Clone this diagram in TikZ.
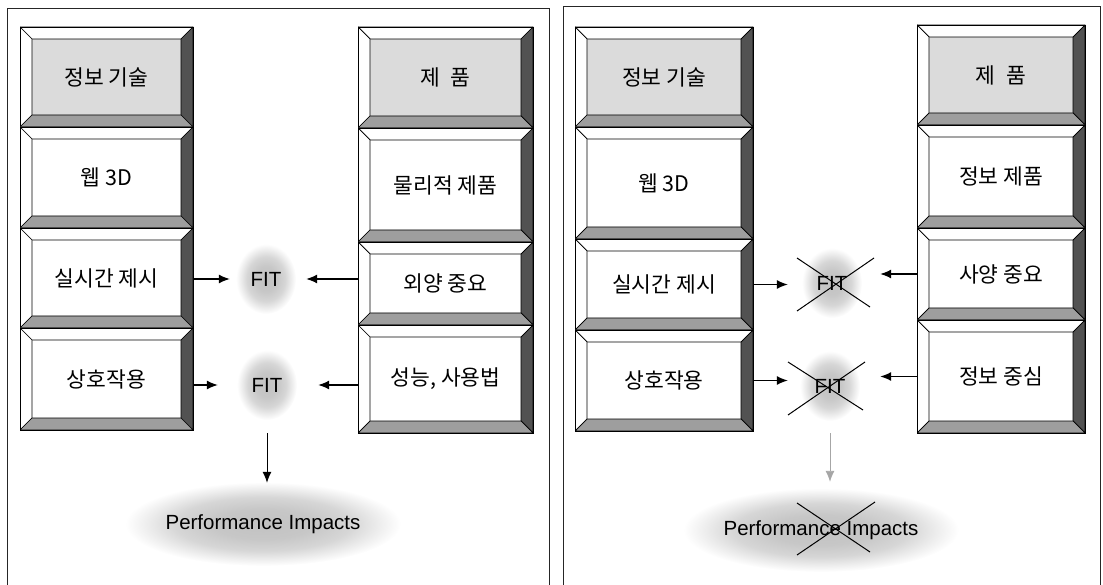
\documentclass[tikz,border=0pt]{standalone}
\usepackage{fontspec}
\setmainfont{Liberation Sans}
\newfontfamily\kr{Noto Sans CJK KR}
\usetikzlibrary{positioning,arrows.meta,shapes.geometric}
\definecolor{face}{gray}{0.86}
\definecolor{shadow}{gray}{0.32}
\definecolor{ledge}{gray}{0.62}
\pgfdeclareradialshading{haze}{\pgfpoint{0bp}{0bp}}{color(0bp)=(gray!48); color(9bp)=(gray!44); color(16bp)=(gray!32); color(21bp)=(gray!14); color(25bp)=(white); color(50bp)=(white)}

\begin{document}
\begin{tikzpicture}[x=1pt,y=-1pt,
  bevel/.style={rectangle,draw,line width=0.8pt,outer sep=0pt,inner sep=0pt,fill=white,
    font=\kr\fontsize{21.5}{26}\selectfont,
    path picture={
      \coordinate (bnw) at (path picture bounding box.north west);
      \coordinate (bne) at (path picture bounding box.north east);
      \coordinate (bsw) at (path picture bounding box.south west);
      \coordinate (bse) at (path picture bounding box.south east);
      \coordinate (inw) at ([shift={(12pt,-12pt)}]bnw);
      \coordinate (ine) at ([shift={(-12pt,-12pt)}]bne);
      \coordinate (isw) at ([shift={(12pt,12pt)}]bsw);
      \coordinate (ise) at ([shift={(-12pt,12pt)}]bse);
      \filldraw[fill=white,line width=0.7pt] (bnw) -- (bne) -- (ine) -- (inw) -- cycle;
      \filldraw[fill=white,line width=0.7pt] (bnw) -- (inw) -- (isw) -- (bsw) -- cycle;
      \filldraw[fill=shadow,line width=0.7pt] (bne) -- (bse) -- (ise) -- (ine) -- cycle;
      \filldraw[fill=ledge,line width=0.7pt] (bsw) -- (isw) -- (ise) -- (bse) -- cycle;
    }},
  head/.style={bevel,fill=face},
  fitblob/.style={ellipse,shade,shading=haze,minimum width=60pt,minimum height=70pt,inner sep=0pt,
    font=\fontsize{20.5}{24}\selectfont},
  perf/.style={ellipse,shade,shading=haze,minimum height=84pt,inner sep=0pt,
    font=\fontsize{20.5}{24}\selectfont},
  arr/.style={-{Latex[length=11pt,width=9pt]},line width=1.2pt},
  strike/.style={line width=1pt},
  frame/.style={line width=1pt,black!85}]
  \useasboundingbox (0,0) rectangle (1103,585);
  \draw[frame] (7,592) -- (7,9) -- (549,9) -- (549,592);
  \draw[frame] (563,592) -- (563,7) -- (1100,7) -- (1100,592);

  % left panel, technology column
  \node[head,minimum width=173pt,minimum height=100pt] (a1) at (106.5,77) {정보 기술};
  \node[bevel,minimum width=173pt,minimum height=101pt,below=0pt of a1] (a2) {웹 3D};
  \node[bevel,minimum width=173pt,minimum height=100pt,below=0pt of a2] (a3) {실시간 제시};
  \node[bevel,minimum width=173pt,minimum height=102pt,below=0pt of a3] (a4) {상호작용};
  % left panel, product column
  \node[head,minimum width=175pt,minimum height=101pt] (b1) at (445.5,77.5) {제\enspace 품};
  \node[bevel,minimum width=175pt,minimum height=114pt,below=0pt of b1] (b2) {물리적 제품};
  \node[bevel,minimum width=175pt,minimum height=83pt,below=0pt of b2] (b3) {외양 중요};
  \node[bevel,minimum width=175pt,minimum height=108pt,below=0pt of b3] (b4) {성능, 사용법};

  \node[fitblob] (f1) at (266,279) {FIT};
  \node[fitblob] (f2) at (267,385) {FIT};
  \node[perf,minimum width=236pt] (p1) at (263,524) {Performance Impacts};
  \draw[arr,shorten >=6pt] (a3.east |- f1) -- (f1.west);
  \draw[arr,shorten >=10pt] (b3.west |- f1) -- (f1.east);
  \draw[arr,shorten >=19pt] (a4.east |- f2) -- (f2.west);
  \draw[arr,shorten >=21pt] (b4.west |- f2) -- (f2.east);
  \draw[arr,line width=1pt,shorten <=13pt,shorten >=-1pt] (f2.south) -- (f2.south |- p1.north);

  % right panel, technology column
  \node[head,minimum width=178pt,minimum height=100pt] (c1) at (664,77) {정보 기술};
  \node[bevel,minimum width=178pt,minimum height=112pt,below=0pt of c1] (c2) {웹 3D};
  \node[bevel,minimum width=178pt,minimum height=91pt,below=0pt of c2] (c3) {실시간 제시};
  \node[bevel,minimum width=178pt,minimum height=101pt,below=0pt of c3] (c4) {상호작용};
  % right panel, product column
  \node[head,minimum width=168pt,minimum height=100pt] (d1) at (1001,75) {제\enspace 품};
  \node[bevel,minimum width=168pt,minimum height=103pt,below=0pt of d1] (d2) {정보 제품};
  \node[bevel,minimum width=168pt,minimum height=92pt,below=0pt of d2] (d3) {사양 중요};
  \node[bevel,minimum width=168pt,minimum height=113pt,below=0pt of d3] (d4) {정보 중심};

  \node[fitblob] (g1) at (832,283) {FIT};
  \node[fitblob] (g2) at (830,386) {FIT};
  \node[perf,minimum width=244pt] (p2) at (821,530) {Performance Impacts};
  \draw[arr,shorten >=14pt] (c3.east) -- (c3.east -| g1.west);
  \draw[arr,shorten >=18pt] (d3.west) -- (d3.west -| g1.east);
  \draw[arr,shorten >=12pt] (c4.east) -- (c4.east -| g2.west);
  \draw[arr,shorten >=20pt] (d4.west) -- (d4.west -| g2.east);
  \draw[arr,gray!70,line width=0.9pt,shorten <=12pt,shorten >=6pt] (g2.south) -- (g2.south |- p2.north);

  % no fit: crossed out
  \draw[strike] ([shift={(-35,-25)}]g1.center) -- ([shift={(38,24)}]g1.center);
  \draw[strike] ([shift={(-35,28)}]g1.center) -- ([shift={(42,-25)}]g1.center);
  \draw[strike] ([shift={(-42,-24)}]g2.center) -- ([shift={(33,24)}]g2.center);
  \draw[strike] ([shift={(-42,29)}]g2.center) -- ([shift={(35,-24)}]g2.center);
  \draw[strike] ([shift={(-24,-27)}]p2.center) -- ([shift={(49,22)}]p2.center);
  \draw[strike] ([shift={(-24,25)}]p2.center) -- ([shift={(54,-28)}]p2.center);
\end{tikzpicture}
\end{document}
